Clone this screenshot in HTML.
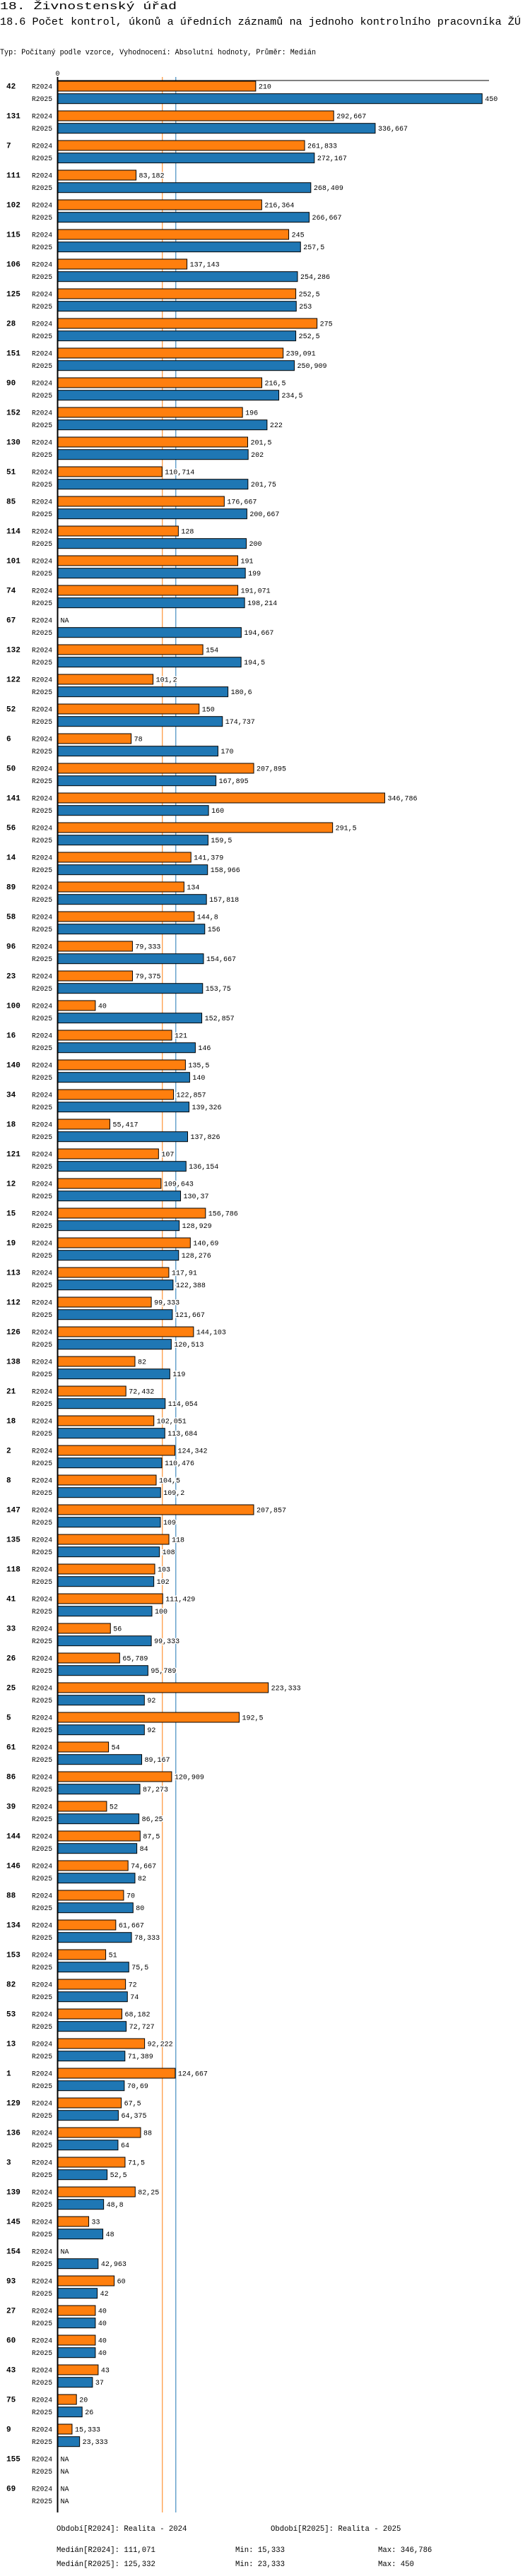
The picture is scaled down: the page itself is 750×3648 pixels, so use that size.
<!DOCTYPE html>
<html><head><meta charset="utf-8">
<style>
html,body{margin:0;padding:0;background:#fff;}
svg{display:block;}
text{font-family:"Liberation Mono",monospace;fill:#000;}
</style></head>
<body>
<svg id="chart" width="750" height="3648" viewBox="0 0 750 3648" xmlns="http://www.w3.org/2000/svg">
<text x="0" y="13" font-size="15" textLength="250" lengthAdjust="spacingAndGlyphs">18. Živnostenský úřad</text>
<text x="0" y="35" font-size="15" textLength="737" lengthAdjust="spacingAndGlyphs">18.6 Počet kontrol, úkonů a úředních záznamů na jednoho kontrolního pracovníka ŽÚ</text>
<text x="0" y="77" font-size="10.6" textLength="447" lengthAdjust="spacingAndGlyphs">Typ: Počítaný podle vzorce, Vyhodnocení: Absolutní hodnoty, Průměr: Medián</text>
<g id="plot"></g>
<text x="80" y="3584" font-size="10.6">Období[R2024]: Realita - 2024</text>
<text x="383" y="3584" font-size="10.6">Období[R2025]: Realita - 2025</text>
<text x="80" y="3614" font-size="10.6">Medián[R2024]: 111,071</text>
<text x="333" y="3614" font-size="10.6">Min: 15,333</text>
<text x="535" y="3614" font-size="10.6">Max: 346,786</text>
<text x="80" y="3634" font-size="10.6">Medián[R2025]: 125,332</text>
<text x="333" y="3634" font-size="10.6">Min: 23,333</text>
<text x="535" y="3634" font-size="10.6">Max: 450</text>
</svg>
<script>
const categories = ["42","131","7","111","102","115","106","125","28","151","90","152","130","51","85","114","101","74","67","132","122","52","6","50","141","56","14","89","58","96","23","100","16","140","34","18","121","12","15","19","113","112","126","138","21","18","2","8","147","135","118","41","33","26","25","5","61","86","39","144","146","88","134","153","82","53","13","1","129","136","3","139","145","154","93","27","60","43","75","9","155","69"];
const values2024 = [210,292.667,261.833,83.182,216.364,245,137.143,252.5,275,239.091,216.5,196,201.5,110.714,176.667,128,191,191.071,null,154,101.2,150,78,207.895,346.786,291.5,141.379,134,144.8,79.333,79.375,40,121,135.5,122.857,55.417,107,109.643,156.786,140.69,117.91,99.333,144.103,82,72.432,102.051,124.342,104.5,207.857,118,103,111.429,56,65.789,223.333,192.5,54,120.909,52,87.5,74.667,70,61.667,51,72,68.182,92.222,124.667,67.5,88,71.5,82.25,33,null,60,40,40,43,20,15.333,null,null];
const values2025 = [450,336.667,272.167,268.409,266.667,257.5,254.286,253,252.5,250.909,234.5,222,202,201.75,200.667,200,199,198.214,194.667,194.5,180.6,174.737,170,167.895,160,159.5,158.966,157.818,156,154.667,153.75,152.857,146,140,139.326,137.826,136.154,130.37,128.929,128.276,122.388,121.667,120.513,119,114.054,113.684,110.476,109.2,109,108,102,100,99.333,95.789,92,92,89.167,87.273,86.25,84,82,80,78.333,75.5,74,72.727,71.389,70.69,64.375,64,52.5,48.8,48,42.963,42,40,40,37,26,23.333,null,null];
const seriesNames = ["R2024","R2025"];
const medians = [111.071,125.332];
const tickLabels = ["0"];

const X0 = 81.5, SCALE = 1.335, TOP = 114.5, PITCH = 42;
const xScale = v => X0 + v * SCALE;
const yGroup = i => TOP + i * PITCH;
const colors = ["#ff7f0e","#1f77b4"];
const NS = "http://www.w3.org/2000/svg";
const plot = document.getElementById("plot");
function mk(tag, attrs){const e=document.createElementNS(NS,tag);for(const k in attrs)e.setAttribute(k,attrs[k]);return e;}
function fmt(v){return String(Math.round(v*1000)/1000).replace(".",",");}

// medians
medians.forEach((m,s)=>{
  const l = mk("line",{x1:xScale(m),x2:xScale(m),y1:109,y2:3558,stroke:colors[s],"stroke-width":1});
  
  
  plot.appendChild(l);
});
// top axis
const ta = mk("line",{x1:X0,x2:692,y1:114,y2:114,stroke:"#000","stroke-width":1});


plot.appendChild(ta);
tickLabels.forEach(t=>{
  const tl = mk("text",{x:xScale(Number(t))-3,y:107,"font-size":10});
  tl.textContent = t;
  
  
  plot.appendChild(tl);
});

const allVals = [values2024, values2025];
categories.forEach((c,i)=>{
  const gy = yGroup(i);
  const g = mk("g",{});
  
  
  const cl = mk("text",{x:9,y:gy+11,"font-size":11,"font-weight":"bold"});
  cl.textContent = c;
  
  
  g.appendChild(cl);
  allVals.forEach((arr,s)=>{
    const by = gy + s*17.7;
    const sl = mk("text",{x:45,y:by+11,"font-size":10,textLength:29,lengthAdjust:"spacingAndGlyphs"});
    sl.textContent = seriesNames[s];
    
    
    g.appendChild(sl);
    const v = arr[i];
    let tx;
    if (v === null) { tx = X0 + 4; }
    else {
      const r = mk("rect",{x:X0,y:by+0.5,width:xScale(v)-X0,height:14,fill:colors[s],stroke:"#000","stroke-width":1});
      
      
      g.appendChild(r);
      tx = xScale(v) + 4;
    }
    const vl = mk("text",{x:tx,y:by+11,"font-size":10,stroke:"#fff","stroke-width":3,"paint-order":"stroke"});
    vl.textContent = v === null ? "NA" : fmt(v);
    
    
    g.appendChild(vl);
  });
  plot.appendChild(g);
});
// vertical axis
const va = mk("line",{x1:X0,x2:X0,y1:109,y2:3558,stroke:"#000","stroke-width":2});


plot.appendChild(va);
</script>
</body></html>
